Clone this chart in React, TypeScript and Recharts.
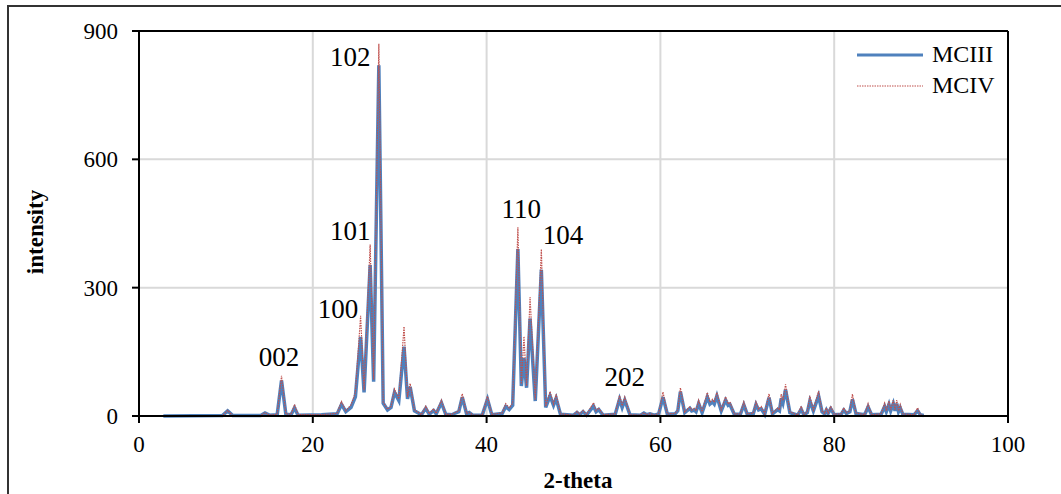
import React from "react";
import {
  LineChart,
  Line,
  XAxis,
  YAxis,
  CartesianGrid,
  ReferenceLine,
  ReferenceDot,
  Legend,
  Label,
} from "recharts";

// 2-theta positions (deg): peak tops and the valleys between them
const theta = [
  2.8, 9.6, 10.2, 10.8, 14.0, 14.5, 15.0, 15.9, 16.4, 16.9,
  17.5, 17.9, 18.3, 21.0, 22.8, 23.3, 23.8, 24.4, 24.9, 25.5,
  25.9, 26.6, 27.0, 27.6, 28.1, 28.6, 29.0, 29.4, 29.9, 30.5,
  30.9, 31.2, 31.7, 32.5, 33.0, 33.4, 33.9, 34.2, 34.8, 35.3,
  36.0, 36.4, 36.8, 37.2, 37.7, 38.0, 38.4, 39.5, 40.1, 40.6,
  41.8, 42.2, 42.6, 43.0, 43.6, 44.0, 44.3, 44.6, 45.0, 45.6,
  46.3, 46.8, 47.3, 47.7, 48.0, 48.5, 50.0, 50.4, 50.7, 51.1,
  51.5, 52.3, 52.6, 52.9, 53.4, 54.8, 55.3, 55.6, 55.9, 56.5,
  57.7, 58.1, 58.4, 58.8, 59.3, 59.8, 60.3, 60.8, 61.7, 62.0,
  62.3, 62.8, 63.4, 63.6, 63.9, 64.1, 64.4, 64.8, 65.4, 65.7,
  66.0, 66.2, 66.5, 67.0, 67.5, 67.8, 68.0, 68.5, 69.2, 69.6,
  70.0, 70.7, 71.0, 71.3, 71.6, 72.0, 72.5, 72.9, 73.5, 73.7,
  73.9, 74.1, 74.4, 74.9, 75.8, 76.2, 76.5, 76.9, 77.2, 77.6,
  78.2, 78.6, 78.9, 79.1, 79.3, 79.6, 80.0, 80.8, 81.1, 81.4,
  81.8, 82.1, 82.5, 83.5, 83.9, 84.3, 85.4, 85.8, 86.0, 86.3,
  86.5, 86.8, 87.0, 87.2, 87.4, 87.6, 87.9, 89.2, 89.6, 89.9,
  90.3,
];

const mciii = [
  0, 1, 12, 1, 1, 7, 2, 3, 83, 4,
  3, 19, 2, 3, 5, 27, 10, 20, 45, 185,
  55, 353, 80, 820, 30, 14, 20, 55, 36, 162,
  40, 68, 12, 3, 18, 4, 13, 5, 31, 4,
  3, 7, 10, 44, 5, 8, 2, 2, 39, 3,
  6, 22, 15, 25, 390, 70, 135, 66, 228, 35,
  342, 20, 47, 25, 41, 4, 2, 8, 3, 10,
  2, 23, 10, 15, 2, 4, 39, 20, 37, 3,
  2, 7, 3, 5, 2, 5, 44, 4, 5, 12,
  57, 8, 18, 12, 14, 10, 29, 8, 44, 28,
  33, 28, 47, 12, 37, 25, 27, 4, 4, 26,
  4, 6, 27, 14, 17, 4, 43, 5, 15, 12,
  41, 30, 62, 8, 2, 16, 3, 8, 35, 12,
  47, 10, 5, 14, 6, 17, 3, 4, 14, 6,
  10, 39, 6, 3, 21, 3, 4, 22, 10, 27,
  12, 29, 12, 29, 10, 19, 4, 3, 12, 3,
  1,
];

const mciv = [
  0, 1, 13, 1, 1, 8, 2, 4, 94, 5,
  4, 27, 3, 3, 6, 34, 12, 26, 55, 234,
  60, 401, 85, 870, 32, 16, 22, 63, 40, 209,
  44, 76, 14, 3, 23, 5, 17, 6, 37, 4,
  4, 8, 12, 52, 6, 9, 2, 2, 46, 4,
  7, 29, 19, 30, 441, 75, 186, 70, 278, 38,
  390, 22, 57, 28, 51, 5, 2, 11, 4, 13,
  3, 31, 12, 19, 3, 5, 48, 24, 44, 3,
  2, 8, 3, 6, 2, 6, 56, 5, 6, 14,
  66, 9, 22, 14, 18, 12, 37, 10, 55, 32,
  39, 32, 55, 14, 45, 28, 33, 5, 5, 33,
  5, 7, 33, 16, 22, 5, 52, 6, 19, 14,
  51, 36, 74, 10, 2, 23, 3, 10, 47, 14,
  58, 12, 6, 19, 7, 23, 4, 5, 19, 7,
  12, 51, 7, 3, 29, 3, 5, 30, 12, 35,
  14, 37, 14, 37, 12, 27, 5, 3, 19, 3,
  1,
];

const xTicks = [0, 20, 40, 60, 80, 100];
const yTicks = [0, 300, 600, 900];

// reflection labels (hkl), placed in data units at the centre of each text
const peakLabels = [
  { text: "002", x: 16.1, y: 138 },
  { text: "100", x: 22.9, y: 250 },
  { text: "101", x: 24.3, y: 432 },
  { text: "102", x: 24.3, y: 840 },
  { text: "110", x: 44.0, y: 484 },
  { text: "104", x: 48.8, y: 423 },
  { text: "202", x: 55.9, y: 91 },
];

const data = theta.map((t, i) => ({ theta: t, MCIII: mciii[i], MCIV: mciv[i] }));

const FONT = "'Liberation Serif', 'Times New Roman', serif";
const BLUE = "#4F81BD";
const RED = "#C0504D";

function LegendBox() {
  const rows = [
    { name: "MCIII", color: BLUE, width: 3, dash: undefined },
    { name: "MCIV", color: RED, width: 1.2, dash: "1.5 1" },
  ];
  return (
    <div style={{ fontFamily: FONT, fontSize: 24, color: "#000" }}>
      {rows.map((r) => (
        <div key={r.name} style={{ display: "flex", alignItems: "center", height: 31 }}>
          <svg width={75} height={10} style={{ display: "block" }}>
            <line x1={0} y1={5} x2={66} y2={5} stroke={r.color} strokeWidth={r.width} strokeDasharray={r.dash} />
          </svg>
          <span>{r.name}</span>
        </div>
      ))}
    </div>
  );
}

export default function App() {
  return (
    <div style={{ position: "absolute", left: 0, top: 0, width: 1061, height: 494, overflow: "hidden", background: "#fff" }}>
      <div
        style={{
          position: "absolute",
          left: 7,
          top: 5,
          width: 1054,
          height: 489,
          borderTop: "2px solid #333",
          borderLeft: "2px solid #333",
          boxSizing: "border-box",
        }}
      />
      <div style={{ position: "absolute", left: 0, top: 0 }}>
        <LineChart width={1061} height={494} data={data} margin={{ top: 31, right: 53, left: 79, bottom: 28 }}>
          <CartesianGrid stroke="#d9d9d9" strokeWidth={2} />
          <XAxis
            type="number"
            dataKey="theta"
            domain={[0, 100]}
            ticks={xTicks}
            height={50}
            tickSize={7}
            tickMargin={13}
            axisLine={{ stroke: "#000", strokeWidth: 2 }}
            tickLine={{ stroke: "#000", strokeWidth: 2 }}
            tick={{ fill: "#000", fontSize: 23, fontFamily: FONT }}
          >
            <Label
              content={() => (
                <text x={578} y={488} textAnchor="middle" fontFamily={FONT} fontSize={23} fontWeight="bold" fill="#000">
                  2-theta
                </text>
              )}
            />
          </XAxis>
          <YAxis
            type="number"
            domain={[0, 900]}
            ticks={yTicks}
            width={60}
            tickSize={7}
            tickMargin={14}
            axisLine={{ stroke: "#000", strokeWidth: 2 }}
            tickLine={{ stroke: "#000", strokeWidth: 2 }}
            tick={{ fill: "#000", fontSize: 23, fontFamily: FONT }}
          >
            <Label
              content={() => (
                <text
                  x={43}
                  y={232}
                  transform="rotate(-90 43 232)"
                  textAnchor="middle"
                  fontFamily={FONT}
                  fontSize={23}
                  fontWeight="bold"
                  fill="#000"
                >
                  intensity
                </text>
              )}
            />
          </YAxis>
          <ReferenceLine y={900} stroke="#000" strokeWidth={2} />
          <ReferenceLine x={100} stroke="#000" strokeWidth={2} />
          <Line
            type="linear"
            dataKey="MCIII"
            stroke={BLUE}
            strokeWidth={3.5}
            dot={false}
            isAnimationActive={false}
          />
          <Line
            type="linear"
            dataKey="MCIV"
            stroke={RED}
            strokeWidth={1.2}
            strokeDasharray="1.5 1"
            dot={false}
            isAnimationActive={false}
          />
          {peakLabels.map((p) => (
            <ReferenceDot
              key={p.text}
              x={p.x}
              y={p.y}
              r={0}
              shape={(props: any) => (
                <text
                  x={props.cx}
                  y={props.cy}
                  textAnchor="middle"
                  dominantBaseline="central"
                  fontFamily={FONT}
                  fontSize={27}
                  fill="#000"
                >
                  {p.text}
                </text>
              )}
            />
          ))}
          <Legend
            layout="horizontal"
            verticalAlign="middle"
            align="center"
            content={() => <LegendBox />}
            wrapperStyle={{ position: "absolute", left: 857, top: 39, width: 160, height: 64 }}
          />
        </LineChart>
      </div>
    </div>
  );
}
